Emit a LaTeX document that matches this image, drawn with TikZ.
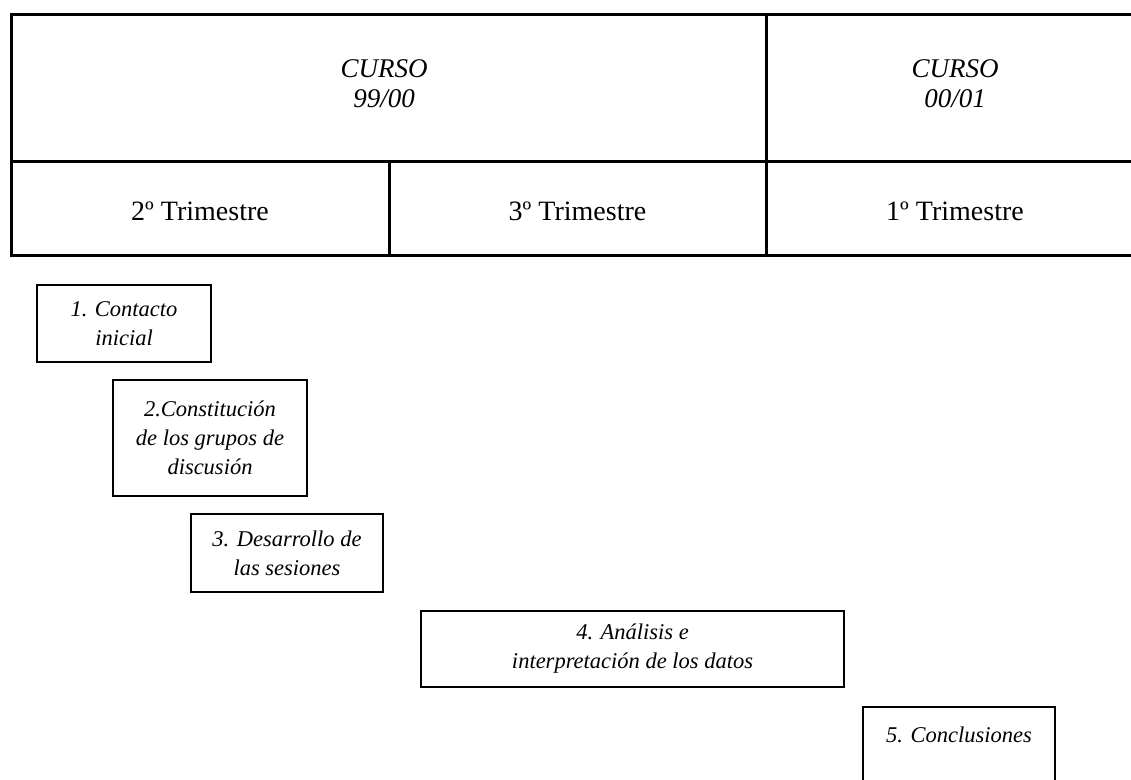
\documentclass[tikz,border=0pt]{standalone}
\usepackage{fontspec}
\setmainfont{Liberation Serif}
\begin{document}
\begin{tikzpicture}[x=1pt,y=-1pt,
  gridline/.style={line width=3pt},
  phasebox/.style={draw,line width=2pt,align=center,inner sep=0pt,
    font=\fontsize{22.5}{29}\selectfont\itshape},
  headtext/.style={align=center,inner sep=0pt,font=\fontsize{28}{30}\selectfont},
  phasetext/.style={inner sep=0pt,font=\fontsize{22.5}{29}\selectfont\itshape}]
\useasboundingbox (0,0) rectangle (1131,779);
\clip (0,0) rectangle (1131,779);
\fill[white] (0,0) rectangle (1131,779);

% schedule table
\draw[gridline] (11,14) rectangle (1144,255);
\draw[gridline] (11,161) -- (1144,161);
\draw[gridline] (766,14) -- (766,255);
\draw[gridline] (389,161) -- (389,255);

\node[headtext,font=\fontsize{27}{30}\selectfont\itshape] (c1) at (384,84) {CURSO\\99/00};
\node[headtext,font=\fontsize{27}{30}\selectfont\itshape] (c2) at (955,84) {CURSO\\00/01};
\node[headtext] (t2) at (200,211) {2º Trimestre};
\node[headtext] (t3) at (577.5,211) {3º Trimestre};
\node[headtext] (t1) at (955,211) {1º Trimestre};

% phases
\node[phasebox,minimum width=174pt,minimum height=77pt] (p1) at (124,323.5)
  {1. Contacto\\inicial};
\node[phasebox,minimum width=194pt,minimum height=116pt] (p2) at (210,438)
  {2.Constitución\\de los grupos de\\discusión};
\node[phasebox,minimum width=192pt,minimum height=78pt] (p3) at (287,553)
  {3. Desarrollo de\\las sesiones};
\node[phasebox,minimum width=423pt,minimum height=76pt] (p4) at (632.5,649)
  {4. Análisis e\\interpretación de los datos};
\node[draw,line width=2pt,minimum width=192pt,minimum height=120pt] (p5) at (959,767) {};
\node[phasetext,anchor=base] (p5t) at (959,742) {5. Conclusiones};
\end{tikzpicture}
\end{document}
